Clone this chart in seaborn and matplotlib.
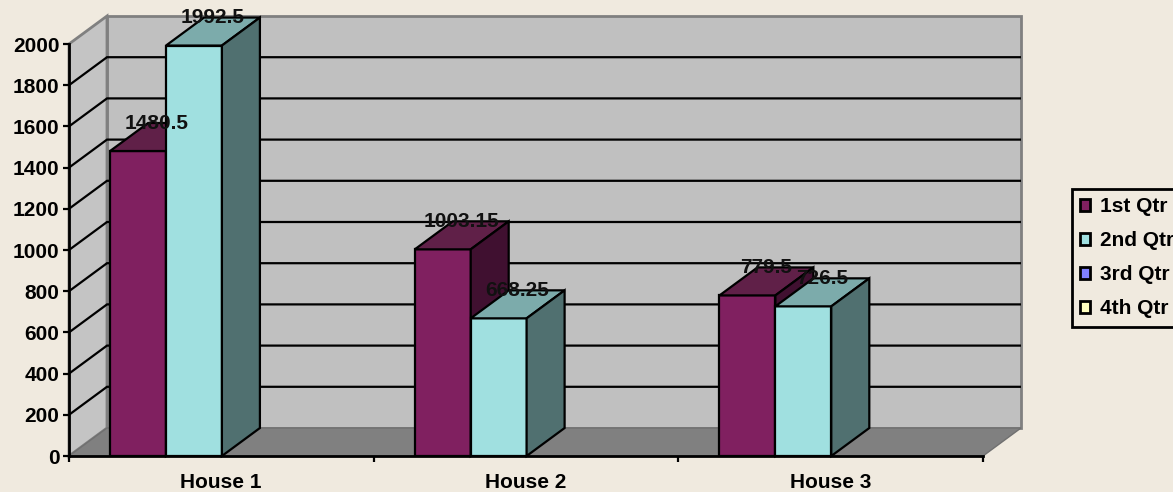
import matplotlib
matplotlib.use('Agg')
import matplotlib.pyplot as plt
from matplotlib.patches import Patch, Polygon
import numpy as np
import pandas as pd
import seaborn as sns

houses = ['House 1', 'House 2', 'House 3']
qtr1 = [1480.5, 1003.15, 779.5]
qtr2 = [1992.5, 668.25, 726.5]
qtr_names = ['1st Qtr', '2nd Qtr', '3rd Qtr', '4th Qtr']
qtr_colors = ['#802060', '#A0E0E0', '#8080FF', '#FFFFC0']
y_ticks = list(range(0, 2001, 200))

bg = '#F0EADF'
fs = 15
lw = 1.6
plt.rcParams['font.family'] = ['Liberation Sans', 'DejaVu Sans']
plt.rcParams['font.weight'] = 'bold'

df = pd.DataFrame({
    'house': houses * 2,
    'qtr': ['1st Qtr'] * 3 + ['2nd Qtr'] * 3,
    'value': qtr1 + qtr2,
})

W, H = 1173, 492
fig = plt.figure(figsize=(W / 100, H / 100), dpi=100, facecolor=bg)
# axes box runs from the front axis corner to the top right of the back wall
ax = fig.add_axes([69 / W, 1 - 456 / H, (1021 - 69) / W, (456 - 16) / H])
ax.patch.set_visible(False)

sns.barplot(data=df, x='house', y='value', hue='qtr', hue_order=qtr_names[:2],
            palette=qtr_colors[:2], saturation=1, width=0.367, gap=0, dodge=True, legend=False,
            edgecolor='black', linewidth=lw, ax=ax, zorder=3)

px_x = 304.7
px_y = 412 / 2000
dx = 38 / px_x   # depth of the fake 3d in data units
dy = 28 / px_y
x0 = -97 / px_x
x1 = x0 + 952 / px_x
ax.set_xlim(x0, x1)
ax.set_ylim(0, 440 / px_y)

# walls and floor
ax.add_patch(Polygon([(x0 + dx, dy), (x1, dy), (x1, 2000 + dy), (x0 + dx, 2000 + dy)],
                     fc='#C0C0C0', ec='#808080', lw=2, zorder=0, clip_on=False))
ax.add_patch(Polygon([(x0, 0), (x0 + dx, dy), (x0 + dx, 2000 + dy), (x0, 2000)],
                     fc='#C4C4C4', ec='#808080', lw=2, zorder=0.5, clip_on=False))
ax.add_patch(Polygon([(x0, 0), (x0 + dx, dy), (x1, dy), (x1 - dx, 0)],
                     fc='#808080', ec='#707070', lw=1, zorder=1, clip_on=False))

for v in y_ticks[1:-1]:
    ax.plot([x0, x0 + dx, x1], [v, v + dy, v + dy], color='black', lw=lw, zorder=1.5,
            solid_joinstyle='miter')

# depth faces, value labels
tops = ['#602048', '#7CABAB']
sides = ['#401030', '#507070']
for i, bars in enumerate(ax.containers):
    for bar in bars:
        bar.set_zorder(3 + i)
        l, r = bar.get_x(), bar.get_x() + bar.get_width()
        h = bar.get_height()
        ax.add_patch(Polygon([(l, h), (l + dx, h + dy), (r + dx, h + dy), (r, h)],
                             fc=tops[i], ec='black', lw=lw, zorder=3.1 + i, clip_on=False))
        ax.add_patch(Polygon([(r, 0), (r + dx, dy), (r + dx, h + dy), (r, h)],
                             fc=sides[i], ec='black', lw=lw, zorder=3.1 + i, clip_on=False))
        ax.text((l + r + dx) / 2, h + dy, f'{h:g}', ha='center', va='center',
                fontsize=fs, fontweight='bold', color='#111111', zorder=10, clip_on=False)

for s in ['top', 'right']:
    ax.spines[s].set_visible(False)
for s in ['left', 'bottom']:
    ax.spines[s].set_linewidth(2)
    ax.spines[s].set_zorder(6)
ax.spines['left'].set_bounds(0, 2000)
ax.spines['bottom'].set_bounds(x0, x1 - dx)

ax.set_yticks(y_ticks)
ax.set_yticklabels([str(v) for v in y_ticks], fontsize=fs, fontweight='bold')
ax.tick_params(axis='y', length=4, width=1.6, pad=3)
ax.set_xticks(x0 + np.arange(4))
ax.set_xticklabels([])
ax.tick_params(axis='x', which='major', length=4, width=1.6)
ax.set_xticks(x0 + 152 / px_x + np.arange(3), labels=houses, minor=True)
ax.tick_params(axis='x', which='minor', length=0, pad=12, labelsize=fs)
ax.set_xlabel('')
ax.set_ylabel('')

handles = [Patch(fc=c, ec='black', lw=2) for c in qtr_colors]
leg = fig.legend(handles, qtr_names, loc='upper left', bbox_to_anchor=(1071.5 / W, 1 - 189 / H),
                 bbox_transform=fig.transFigure, fontsize=fs, frameon=True, fancybox=False,
                 facecolor=bg, edgecolor='black', framealpha=1, handlelength=0.5,
                 handleheight=0.5, handletextpad=0.45, labelspacing=0.72, borderpad=0.4,
                 borderaxespad=0)
leg.get_frame().set_linewidth(2)

fig.savefig('out.png', dpi=100, facecolor=bg)
